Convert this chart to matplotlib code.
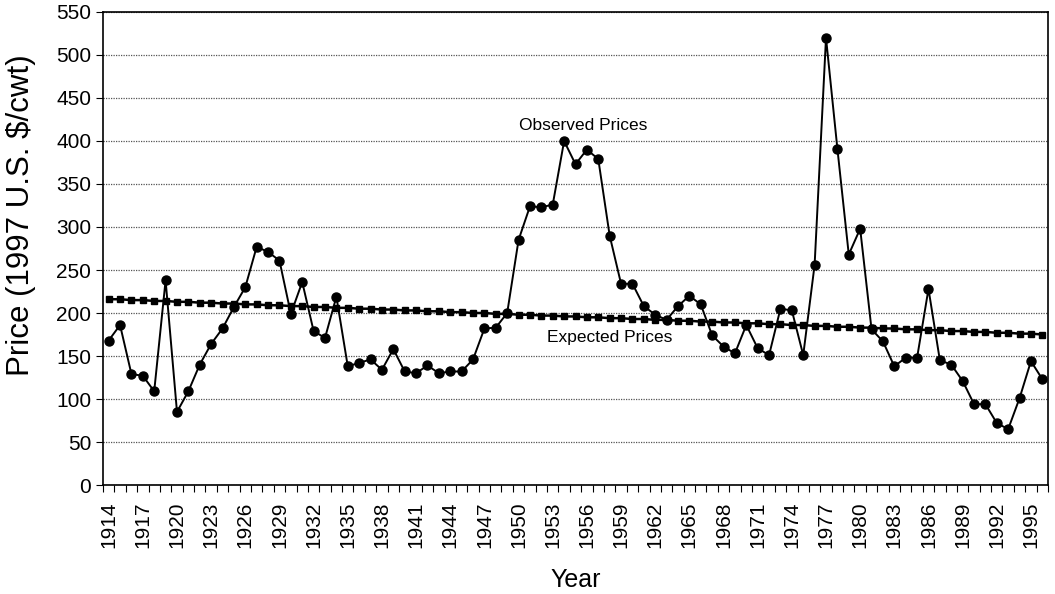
import matplotlib
matplotlib.use("Agg")
import matplotlib.pyplot as plt
import numpy as np

plt.rcParams['font.family'] = ['Liberation Sans', 'DejaVu Sans']

years = list(range(1914, 1997))

observed = [168, 186, 129, 127, 109, 238, 85, 109, 140, 164, 182, 207, 230, 277,
            271, 261, 199, 236, 179, 171, 219, 138, 142, 146, 134, 158, 132, 130,
            139, 130, 132, 132, 146, 182, 183, 200, 285, 324, 323, 326, 400, 373,
            390, 379, 290, 234, 234, 208, 198, 192, 208, 220, 210, 174, 161, 153,
            186, 159, 151, 205, 203, 151, 256, 520, 391, 268, 298, 181, 167, 138,
            148, 148, 228, 145, 140, 121, 94, 94, 72, 65, 101, 144, 123]

expected = [216, 216, 215, 215, 214, 214, 213, 213, 212, 212, 211, 211, 210, 210,
            209, 209, 208, 208, 207, 207, 206, 206, 205, 205, 204, 204, 203, 203,
            202, 202, 201, 201, 200, 200, 199, 199, 198, 198, 197, 197, 196, 196,
            195, 195, 194, 194, 193, 193, 192, 192, 191, 191, 190, 190, 189, 189,
            188, 188, 187, 187, 186, 186, 185, 185, 184, 184, 183, 183, 182, 182,
            181, 181, 180, 180, 179, 179, 178, 178, 177, 177, 176, 176, 175]

y_ticks = list(range(0, 551, 50))

fig = plt.figure(figsize=(10.55, 5.94), dpi=100)
ax = fig.add_axes([0.0976, 0.1835, 0.8958, 0.7963])

x = np.arange(len(years))
ax.plot(x, expected, color='black', lw=1.8, marker='s', ms=3.8, zorder=3)
ax.plot(x, observed, color='black', lw=1.4, marker='o', ms=6.5, zorder=4)

ax.set_xlim(-0.5, len(years) - 0.5)
ax.set_ylim(0, 550)
ax.set_yticks(y_ticks)
ax.yaxis.grid(True, linestyle=(0, (1, 1)), color='#555555', lw=0.9)
ax.set_axisbelow(True)

# category axis: ticks between categories, labels every 3 years
ax.set_xticks(np.arange(-0.5, len(years), 1.0))
ax.set_xticklabels([])
ax.set_xticks(x[::3], minor=True)
ax.set_xticklabels([str(y) for y in years[::3]], minor=True, rotation=90, fontsize=15)
ax.tick_params(axis='x', which='major', length=5, direction='out', width=0.8)
ax.tick_params(axis='x', which='minor', length=0, pad=12)
ax.tick_params(axis='y', length=5, direction='out', width=0.8, labelsize=15)

for s in ax.spines.values():
    s.set_color('black')
    s.set_linewidth(1.2)

ax.set_xlabel('Year', fontsize=18, labelpad=14)
ax.set_ylabel('Price (1997 U.S. $/cwt)', fontsize=22.5)
ax.yaxis.set_label_coords(-0.071, 0.57)

ax.text(years.index(1956) - 0.3, 418, 'Observed Prices', fontsize=12.5, ha='center', va='center')
ax.text(years.index(1958), 171, 'Expected Prices', fontsize=12.5, ha='center', va='center')

fig.savefig('out.png', dpi=100)
